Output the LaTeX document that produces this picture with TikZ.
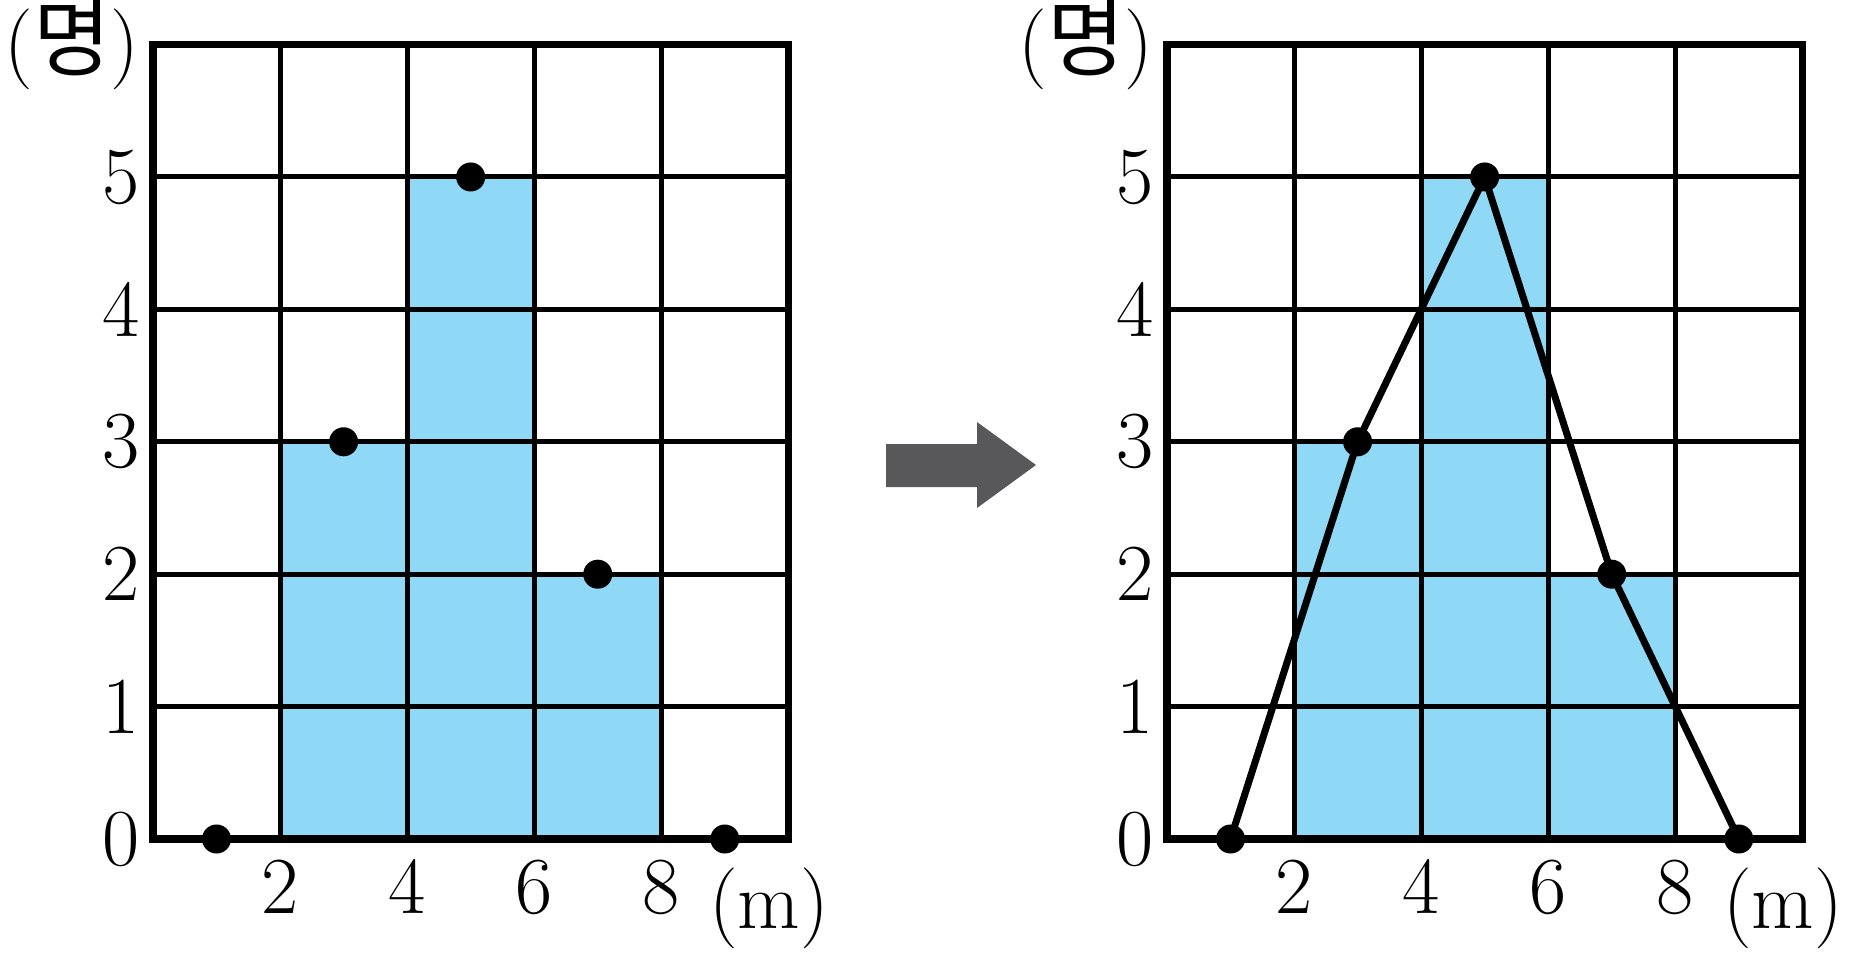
\documentclass[tikz,border=0pt]{standalone}
\usepackage{fontspec}
\newfontfamily\krfont{Noto Sans CJK KR}
\definecolor{barblue}{RGB}{143,216,246}
\definecolor{arrowgray}{RGB}{88,88,90}
\tikzset{
  gridline/.style={line width=1.42pt},
  frameline/.style={line width=2pt, line join=miter},
  bar/.style={fill=barblue},
  datadot/.style={circle, fill=black, inner sep=0pt, minimum size=0.29cm},
  numlabel/.style={font=\fontsize{23}{27}\selectfont, inner sep=0pt},
  polyline/.style={line width=2pt, line join=round},
}
\newcommand\drawchart[2]{%
  \begin{scope}[shift={#2}, x=0.635cm, y=1.3233cm]
    \fill[bar] (2,0) rectangle (4,3);
    \fill[bar] (4,0) rectangle (6,5);
    \fill[bar] (6,0) rectangle (8,2);
    \foreach \i in {1,...,5} \draw[gridline] (0,\i) -- (10,\i);
    \foreach \i in {2,4,6,8} \draw[gridline] (\i,0) -- (\i,6);
    \draw[frameline] (0,0) rectangle (10,6);
    \foreach \i in {0,...,5}
      \node[numlabel, anchor=east] (#1y\i) at ([xshift=-0.13cm]0,\i) {\i};
    \foreach \i in {2,4,6,8}
      \node[numlabel, anchor=base] (#1x\i) at ([yshift=-0.74cm]\i,0) {\i};
    \node[numlabel, anchor=base west] (#1unitx) at ([yshift=-0.89cm]8.74,0) {(m)};
    \node[numlabel, anchor=east] (#1unity) at ([xshift=-0.13cm]0,6) {({\krfont\fontsize{24}{28}\selectfont 명})};
    \node[datadot] (#1d1) at (1,0) {};
    \node[datadot] (#1d3) at (3,3) {};
    \node[datadot] (#1d5) at (5,5) {};
    \node[datadot] (#1d7) at (7,2) {};
    \node[datadot] (#1d9) at (9,0) {};
  \end{scope}%
}
\begin{document}
\begin{tikzpicture}[x=0.01cm, y=0.01cm]
  \useasboundingbox (0,0) rectangle (1850,-957);
  \drawchart{L}{(153,-839)}
  \drawchart{R}{(1167,-839)}
  \draw[polyline] (Rd1.center) -- (Rd3.center) -- (Rd5.center) -- (Rd7.center) -- (Rd9.center);
  \fill[arrowgray] (886,-444) -- (977,-444) -- (977,-422) -- (1036,-465) -- (977,-508) -- (977,-487) -- (886,-487) -- cycle;
\end{tikzpicture}
\end{document}
